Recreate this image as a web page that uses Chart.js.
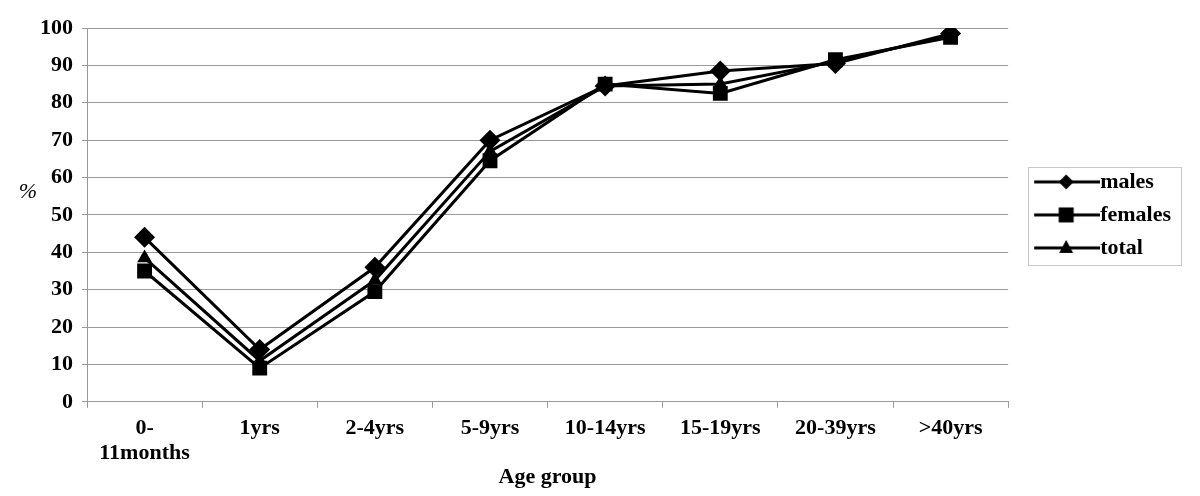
<!DOCTYPE html>
<html>
<head>
<meta charset="utf-8">
<script src="https://cdn.jsdelivr.net/npm/chart.js@4/dist/chart.umd.min.js"></script>
<style>
  html, body { margin: 0; background: #fff; }
  #wrap { width: 1200px; height: 496px; }
</style>
</head>
<body>
<div id="wrap"><canvas id="chart"></canvas></div>
<script>
const ageGroups = [['0-', '11months'], '1yrs', '2-4yrs', '5-9yrs', '10-14yrs', '15-19yrs', '20-39yrs', '>40yrs'];
const males = [44, 14, 36, 70, 84.5, 88.5, 90.5, 98.5];
const females = [35, 9, 29.5, 64.5, 85, 82.5, 91.5, 97.5];
const total = [38.5, 11, 32.5, 67, 84.5, 85, 91, 98];
const seriesNames = ['males', 'females', 'total'];

const serif = "'Liberation Serif', 'Times New Roman', serif";

// line + marker icons for the legend (left part of the canvas stays blank)
function legendIcon(style) {
  const c = document.createElement('canvas');
  c.width = 92; c.height = 22;
  const g = c.getContext('2d');
  g.strokeStyle = '#000'; g.fillStyle = '#000'; g.lineWidth = 3;
  g.beginPath(); g.moveTo(26, 11); g.lineTo(92, 11); g.stroke();
  g.beginPath();
  if (style === 'rectRot') {
    g.moveTo(58, 3.5); g.lineTo(65.5, 11); g.lineTo(58, 18.5); g.lineTo(50.5, 11);
  } else if (style === 'rect') {
    g.rect(50.5, 3.5, 15, 15);
  } else {
    g.moveTo(58, 3); g.lineTo(65, 16); g.lineTo(51, 16);
  }
  g.closePath(); g.fill();
  return c;
}

const percentLabel = {
  id: 'percentLabel',
  afterDraw(chart) {
    const ctx = chart.ctx;
    ctx.save();
    ctx.font = 'italic 22px ' + serif;
    ctx.fillStyle = '#000';
    ctx.textAlign = 'center';
    ctx.textBaseline = 'middle';
    ctx.fillText('%', 28, 192);
    ctx.restore();
  }
};

const legendBorder = {
  id: 'legendBorder',
  afterDraw(chart) {
    const boxes = chart.legend.legendHitBoxes;
    if (!boxes || !boxes.length) return;
    const left = Math.min(...boxes.map(b => b.left)) + 9;
    const top = Math.min(...boxes.map(b => b.top)) - 4;
    const right = Math.max(...boxes.map(b => b.left + b.width)) + 10;
    const bottom = Math.max(...boxes.map(b => b.top + b.height)) + 6;
    const ctx = chart.ctx;
    ctx.save();
    ctx.strokeStyle = '#c8c8c8';
    ctx.lineWidth = 1;
    ctx.strokeRect(Math.round(left) + 0.5, Math.round(top) + 0.5, Math.round(right - left), Math.round(bottom - top));
    ctx.restore();
  }
};

const styles = ['rectRot', 'rect', 'triangle'];
const radii = [10.5, 10.5, 8.5];

new Chart(document.getElementById('chart'), {
  type: 'line',
  data: {
    labels: ageGroups,
    datasets: [males, females, total].map((d, i) => ({
      label: seriesNames[i],
      data: d,
      borderColor: '#000',
      backgroundColor: '#000',
      borderWidth: 3,
      pointStyle: styles[i],
      pointRadius: radii[i],
      pointBorderWidth: 0,
      tension: 0
    }))
  },
  options: {
    responsive: true,
    maintainAspectRatio: false,
    animation: false,
    layout: { padding: { left: 31, top: 28, right: 19, bottom: 0 } },
    plugins: {
      tooltip: { enabled: false },
      legend: {
        position: 'right',
        fullSize: false,
        labels: {
          usePointStyle: true,
          pointStyleWidth: 70,
          padding: 11,
          color: '#000',
          font: { family: serif, size: 22, weight: 'bold' },
          generateLabels(chart) {
            const items = Chart.defaults.plugins.legend.labels.generateLabels(chart);
            items.forEach((it, i) => { it.pointStyle = legendIcon(styles[i]); });
            return items;
          }
        }
      }
    },
    scales: {
      x: {
        offset: true,
        grid: { offset: true, drawOnChartArea: false, tickLength: 6, color: '#999' },
        border: { color: '#999' },
        ticks: {
          color: '#000',
          maxRotation: 0,
          autoSkip: false,
          padding: 8,
          font: { family: serif, size: 22, weight: 'bold', lineHeight: 1.14 }
        },
        title: {
          display: true,
          text: 'Age group',
          color: '#000',
          padding: { top: -8, bottom: 8 },
          font: { family: serif, size: 22, weight: 'bold', lineHeight: 1.0 }
        }
      },
      y: {
        min: 0,
        max: 100,
        grid: { color: '#999', tickLength: 5 },
        border: { color: '#999' },
        ticks: {
          stepSize: 10,
          color: '#000',
          padding: 9,
          font: { family: serif, size: 22, weight: 'bold' }
        }
      }
    }
  },
  plugins: [percentLabel, legendBorder]
});
</script>
</body>
</html>
